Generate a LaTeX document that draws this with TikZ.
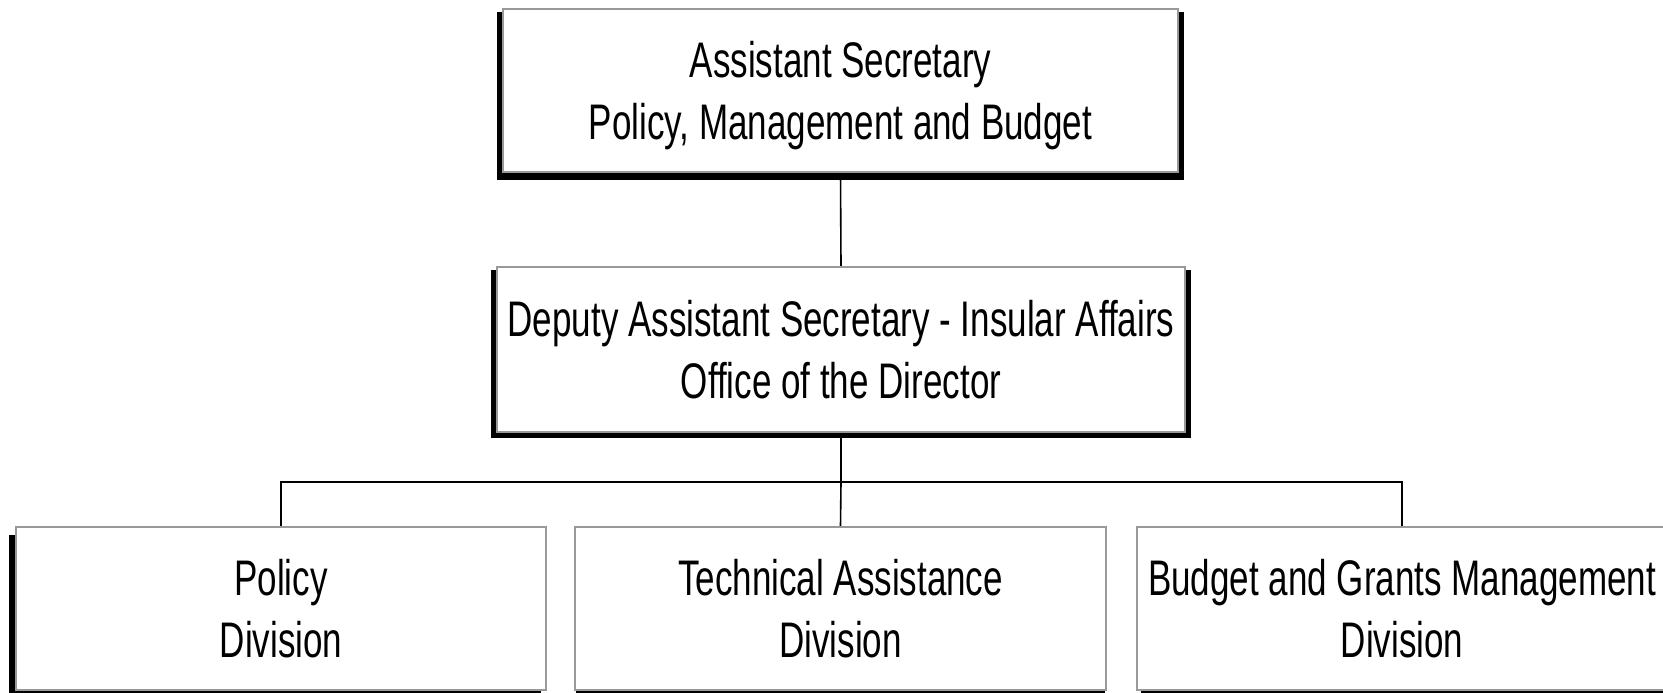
\documentclass[tikz,border=0pt]{standalone}
\usepackage{fontspec}
\setmainfont{Liberation Sans}[FakeStretch=0.70]
\usetikzlibrary{backgrounds}
\definecolor{boxgray}{HTML}{999999}
\begin{document}
\begin{tikzpicture}[x=1pt,y=-1pt,
  orgbox/.style={rectangle, draw=boxgray, line width=2pt, fill=white, inner sep=0pt,
    align=center, font=\fontsize{50}{61.5}\selectfont, text height=97.5pt, text depth=0pt},
  conn/.style={draw=black, line width=1.6pt}]
\useasboundingbox (0,0) rectangle (1663,693);
\node[orgbox, minimum width=675pt, minimum height=163pt] (as) at (840.5,90.5)
  {Assistant Secretary\\Policy, Management and Budget};
\node[orgbox, minimum width=688pt, minimum height=165pt] (das) at (841,349.5)
  {Deputy Assistant Secretary - Insular Affairs\\Office of the Director};
\node[orgbox, minimum width=530pt, minimum height=163pt] (pol) at (281,608.5)
  {Policy\\Division};
\node[orgbox, minimum width=531pt, minimum height=163pt] (tech) at (840.5,608.5)
  {Technical Assistance\\Division};
\node[orgbox, minimum width=530pt, minimum height=163pt] (bud) at (1402,608.5)
  {Budget and Grants Management\\Division};
\coordinate (bus) at (841,482);
\begin{scope}[on background layer]
  \fill[black] ([xshift=-5pt,yshift=-4pt]as.north west) rectangle ([xshift=5pt,yshift=-7pt]as.south east);
  \fill[black] ([xshift=-5pt,yshift=-4pt]das.north west) rectangle ([xshift=5pt,yshift=-5pt]das.south east);
  \fill[black] ([xshift=-6pt,yshift=-9pt]pol.north west) rectangle ([xshift=-6pt,yshift=-10pt]pol.south east);
  \fill[black] ([xshift=2pt,yshift=-9pt]tech.north west) rectangle ([xshift=-2pt,yshift=-10pt]tech.south east);
  \fill[black] ([xshift=5pt,yshift=-9pt]bud.north west) rectangle ([xshift=0pt,yshift=-10pt]bud.south east);
  \draw[conn] (as.south) -- (das.north);
  \draw[conn] (das.south) -- (bus);
  \draw[conn] (pol.north) |- (bus) -| (bud.north);
  \draw[conn] (bus) -- (tech.north);
\end{scope}
\end{tikzpicture}
\end{document}
